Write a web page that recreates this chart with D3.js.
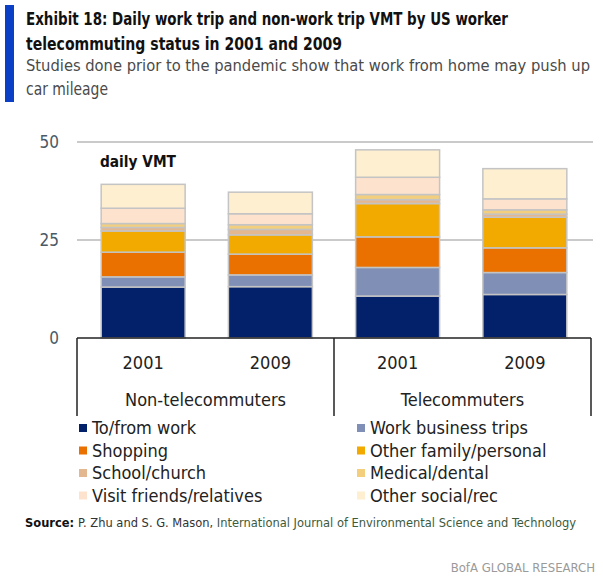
<!DOCTYPE html>
<html>
<head>
<meta charset="utf-8">
<script src="https://cdn.jsdelivr.net/npm/d3@7"></script>
<style>
  html, body { margin: 0; padding: 0; background: #fff; }
  svg { display: block; }
  text { font-family: "DejaVu Sans Condensed", "Liberation Sans Narrow", "Open Sans", sans-serif; }
</style>
</head>
<body>
<svg id="chart" width="603" height="578"></svg>
<script>
// Daily vehicle miles travelled (VMT) by trip purpose
const groups = ["Non-telecommuters", "Telecommuters"];
const years = ["2001", "2009"];
const bars = [
  { group: "Non-telecommuters", year: "2001" },
  { group: "Non-telecommuters", year: "2009" },
  { group: "Telecommuters", year: "2001" },
  { group: "Telecommuters", year: "2009" }
];
const purposes = [
  "To/from work", "Work business trips", "Shopping", "Other family/personal",
  "School/church", "Medical/dental", "Visit friends/relatives", "Other social/rec"
];
// one array per purpose, values in bar order above
const toFromWork     = [13.0, 13.1, 10.7, 11.1];
const workBusiness   = [2.6, 3.0, 7.3, 5.6];
const shopping       = [6.3, 5.3, 7.8, 6.3];
const otherFamily    = [5.4, 4.9, 8.5, 7.8];
const schoolChurch   = [0.9, 1.4, 1.0, 0.8];
const medicalDental  = [1.0, 1.2, 1.3, 1.1];
const visitFriends   = [3.9, 2.8, 4.4, 2.8];
const otherSocial    = [6.1, 5.5, 7.0, 7.7];
const yTicks = [0, 25, 50];

const seriesValues = [toFromWork, workBusiness, shopping, otherFamily,
  schoolChurch, medicalDental, visitFriends, otherSocial];
const colors = ["#03206a", "#7f8fb6", "#ea7100", "#f2a900",
  "#e3b891", "#f3cf7d", "#fde3cd", "#fdefcf"];

const rows = bars.map((b, i) => {
  const r = { key: b.group + "|" + b.year };
  purposes.forEach((p, j) => { r[p] = seriesValues[j][i]; });
  return r;
});

const svg = d3.select("#chart");

// Header
svg.append("rect").attr("x", 5).attr("y", 5).attr("width", 9).attr("height", 97).attr("fill", "#0a3fc6");
const head = svg.append("g");
const headLines = [
  { t: "Exhibit 18: Daily work trip and non-work trip VMT by US worker", y: 25, w: 482, size: 17, bold: true },
  { t: "telecommuting status in 2001 and 2009", y: 50, w: 316, size: 17, bold: true },
  { t: "Studies done prior to the pandemic show that work from home may push up", y: 71, w: 564, size: 16, bold: false },
  { t: "car mileage", y: 95, w: 82, size: 17, bold: false }
];
head.selectAll("text").data(headLines).join("text")
  .attr("x", 26).attr("y", d => d.y)
  .attr("font-size", d => d.size)
  .attr("font-weight", d => d.bold ? "bold" : "normal")
  .attr("fill", d => d.bold ? "#111" : "#4a4a4a")
  .attr("textLength", d => d.w).attr("lengthAdjust", "spacingAndGlyphs")
  .text(d => d.t);

// Scales
const plotL = 77, plotR = 591, plotTop = 142, plotBottom = 338;
const y = d3.scaleLinear().domain([0, 50]).range([plotBottom, plotTop]);
const x = d3.scaleBand().domain(rows.map(r => r.key)).range([plotL, plotR]).paddingInner(0.34).paddingOuter(0.19);
const xg = d3.scaleBand().domain(groups).range([plotL, plotR]);

// Gridlines
svg.append("g").selectAll("line").data(yTicks.filter(t => t > 0)).join("line")
  .attr("x1", plotL).attr("x2", 593)
  .attr("y1", d => y(d)).attr("y2", d => y(d))
  .attr("stroke", "#b8b8b8").attr("stroke-width", 1.5);

// Y axis labels
const yAxis = d3.axisLeft(y).tickValues(yTicks).tickSize(0).tickPadding(0);
const yg = svg.append("g").attr("transform", `translate(59,0)`).call(yAxis);
yg.select(".domain").remove();
yg.selectAll("text").attr("font-size", 17).attr("fill", "#4b5966")
  .attr("font-family", "'DejaVu Sans Condensed', sans-serif");

svg.append("text").attr("x", 100).attr("y", 167).attr("font-size", 16).attr("font-weight", "bold").attr("fill", "#111")
  .attr("textLength", 76).attr("lengthAdjust", "spacingAndGlyphs")
  .text("daily VMT");

// Stacked bars
const stack = d3.stack().keys(purposes)(rows);
const layer = svg.append("g").selectAll("g").data(stack).join("g")
  .attr("fill", (d, i) => colors[i]);
layer.selectAll("rect").data(d => d).join("rect")
  .attr("x", d => x(d.data.key))
  .attr("width", x.bandwidth())
  .attr("y", d => y(d[1]))
  .attr("height", d => y(d[0]) - y(d[1]))
  .attr("stroke", "#c4c4c4").attr("stroke-width", 1.5);

// Category axis frame
const frame = svg.append("g").attr("stroke", "#222").attr("stroke-width", 1.5).attr("fill", "none");
frame.append("line").attr("x1", plotL).attr("x2", plotR).attr("y1", plotBottom).attr("y2", plotBottom);
[plotL, xg("Telecommuters"), plotR].forEach(px => {
  frame.append("line").attr("x1", px).attr("x2", px).attr("y1", plotBottom).attr("y2", 416);
});

// Year labels
svg.append("g").selectAll("text").data(rows).join("text")
  .attr("x", d => x(d.key) + x.bandwidth() / 2)
  .attr("y", 369).attr("text-anchor", "middle").attr("font-size", 18).attr("fill", "#222")
  .text(d => d.key.split("|")[1]);

// Group labels
svg.append("g").selectAll("text").data(groups).join("text")
  .attr("x", d => xg(d) + xg.bandwidth() / 2)
  .attr("y", 406).attr("text-anchor", "middle").attr("font-size", 18).attr("fill", "#222")
  .text(d => d);

// Legend: two columns, four rows
const legend = svg.append("g");
purposes.forEach((p, i) => {
  const col = i % 2, row = Math.floor(i / 2);
  const lx = col === 0 ? 79 : 357;
  const ly = 428 + row * 22.5;
  legend.append("rect").attr("x", lx).attr("y", ly - 4).attr("width", 8).attr("height", 8).attr("fill", colors[i]);
  legend.append("text").attr("x", lx + 13).attr("y", ly + 6).attr("font-size", 18).attr("fill", "#222").text(p);
});

// Source and footer
const src = svg.append("text").attr("x", 25).attr("y", 527).attr("font-size", 12)
  .attr("textLength", 551).attr("lengthAdjust", "spacingAndGlyphs");
src.append("tspan").attr("font-weight", "bold").attr("fill", "#111").text("Source: ");
src.append("tspan").attr("fill", "#333").text("P. Zhu and S. G. Mason, ");
src.append("tspan").attr("fill", "#3d5a3d").text("International Journal of Environmental Science and Technology");

svg.append("text").attr("x", 595).attr("y", 572).attr("text-anchor", "end").attr("font-size", 13)
  .attr("fill", "#9a9a9a").text("BofA GLOBAL RESEARCH");
</script>
</body>
</html>
